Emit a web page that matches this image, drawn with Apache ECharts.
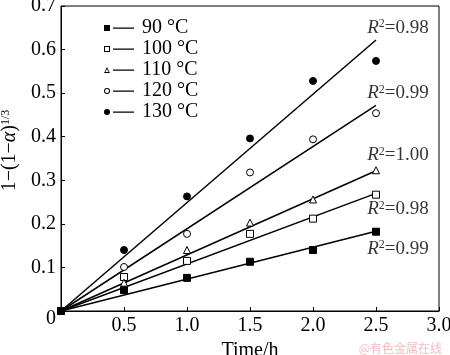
<!DOCTYPE html>
<html>
<head>
<meta charset="utf-8">
<script src="https://cdn.jsdelivr.net/npm/echarts@6/dist/echarts.min.js"></script>
<style>html,body{margin:0;padding:0;background:#fff}#c{width:450px;height:355px}</style>
</head>
<body>
<div id="c"></div>
<script>
// ---- data ----
var times = [0, 0.5, 1.0, 1.5, 2.0, 2.5];
var temps = ['90 °C', '100 °C', '110 °C', '120 °C', '130 °C'];
var v90  = [0, 0.048, 0.076, 0.113, 0.140, 0.182];
var v100 = [0, 0.078, 0.115, 0.177, 0.212, 0.267];
var v110 = [0, 0.065, 0.140, 0.203, 0.256, 0.323];
var v120 = [0, 0.101, 0.177, 0.318, 0.394, 0.454];
var v130 = [0, 0.140, 0.263, 0.396, 0.528, 0.574];
var fitX = [0, 2.5];
var fit90  = [0, 0.183];
var fit100 = [0, 0.270];
var fit110 = [0, 0.322];
var fit120 = [0, 0.472];
var fit130 = [0, 0.622];
var r2Values = ['0.99', '0.98', '1.00', '0.99', '0.98'];
var r2AnchorX = [2.43, 2.43, 2.43, 2.43, 2.43];
var r2AnchorY = [0.143, 0.233, 0.357, 0.50, 0.65];
var xTicks = [0, 0.5, 1.0, 1.5, 2.0, 2.5, 3.0];

var values = [v90, v100, v110, v120, v130];
var fits = [fit90, fit100, fit110, fit120, fit130];

var FONT = '"Liberation Serif", "Times New Roman", serif';
var symbols = [
  {symbol: 'rect', fill: '#000'},
  {symbol: 'rect', fill: '#fff'},
  {symbol: 'triangle', fill: '#fff'},
  {symbol: 'circle', fill: '#fff'},
  {symbol: 'circle', fill: '#000'}
];
var lineRect = ' M9 2.4 L30 2.4 L30 3.7 L9 3.7 Z';
var legendIcons = [
  'path://M0 0 L6 0 L6 6 L0 6 Z' + lineRect,
  'path://M0 0 L6 0 L6 6 L0 6 Z M1 1 L1 5 L5 5 L5 1 Z' + lineRect,
  'path://M3 0 L6 6 L0 6 Z M3 2 L1.3 5.1 L4.7 5.1 Z' + lineRect,
  'path://M0 3 A3 3 0 1 0 6 3 A3 3 0 1 0 0 3 Z M1 3 A2 2 0 1 1 5 3 A2 2 0 1 1 1 3 Z' + lineRect,
  'path://M0 3 A3 3 0 1 0 6 3 A3 3 0 1 0 0 3 Z' + lineRect
];

var series = [];
temps.forEach(function (t, i) {
  series.push({
    name: t, type: 'scatter', z: 5,
    symbol: symbols[i].symbol, symbolSize: 7,
    itemStyle: {color: symbols[i].fill, borderColor: '#000', borderWidth: 1, opacity: 1},
    data: times.map(function (x, k) { return [x, values[i][k]]; })
  });
});
temps.forEach(function (t, i) {
  series.push({
    name: t, type: 'line', z: 3, symbol: 'none', silent: true,
    lineStyle: {color: '#000', width: 1.5},
    data: fitX.map(function (x, k) { return [x, fits[i][k]]; })
  });
});
series.push({
  type: 'scatter', symbolSize: 0, z: 6, silent: true,
  label: {
    show: true, position: 'right', distance: 0,
    formatter: function (p) { return '{i|R}{s|2}{n|=' + r2Values[p.dataIndex] + '}'; },
    rich: {
      i: {fontFamily: FONT, fontSize: 19, fontStyle: 'italic', color: '#000'},
      s: {fontFamily: FONT, fontSize: 12, color: '#000', verticalAlign: 'top', padding: [0, 0, 6, 0]},
      n: {fontFamily: FONT, fontSize: 19, color: '#000'}
    }
  },
  data: r2AnchorX.map(function (x, k) { return [x, r2AnchorY[k]]; })
});

var chart = echarts.init(document.getElementById('c'));
chart.setOption({
  animation: false,
  grid: {left: 61, right: 11, top: 6, bottom: 44, show: true, borderColor: '#000', borderWidth: 1,
         containLabel: false, outerBoundsMode: 'none'},
  legend: {
    left: 99, top: 13, orient: 'vertical', selectedMode: false,
    itemWidth: 30, itemHeight: 6, itemGap: 1,
    itemStyle: {color: '#000', borderWidth: 0},
    textStyle: {fontFamily: FONT, fontSize: 20, lineHeight: 19, color: '#000', padding: [0, 0, 0, 3]},
    data: temps.map(function (t, i) { return {name: t, icon: legendIcons[i]}; })
  },
  xAxis: {
    type: 'value', min: 0, max: 3, interval: 0.5,
    name: 'Time/h', nameLocation: 'middle', nameGap: 28,
    nameTextStyle: {fontFamily: FONT, fontSize: 20, color: '#000'},
    axisLine: {lineStyle: {color: '#000', width: 1}},
    axisTick: {inside: true, length: 4, lineStyle: {color: '#000'}},
    splitLine: {show: false},
    axisLabel: {
      fontFamily: FONT, fontSize: 20, color: '#000', margin: 5,
      formatter: function (v) { return v === 0 ? '' : v.toFixed(1); }
    }
  },
  yAxis: {
    type: 'value', min: 0, max: 0.7, interval: 0.1,
    name: '1−(1−{a|α}){s|1/3}', nameLocation: 'middle', nameRotate: 90, nameGap: 40,
    nameTextStyle: {
      fontFamily: FONT, fontSize: 20, color: '#000', padding: [0, 0, 0, 16],
      rich: {
        a: {fontFamily: FONT, fontSize: 20, fontStyle: 'italic', color: '#000'},
        s: {fontFamily: FONT, fontSize: 12, color: '#000', verticalAlign: 'top', padding: [0, 0, 6, 0]}
      }
    },
    axisLine: {show: true, lineStyle: {color: '#000', width: 1}},
    axisTick: {show: true, inside: true, length: 4, lineStyle: {color: '#000'}},
    splitLine: {show: false},
    axisLabel: {
      fontFamily: FONT, fontSize: 20, color: '#000', margin: 5,
      formatter: function (v) { return v === 0 ? '{z|0}' : v.toFixed(1); },
      rich: {z: {fontFamily: FONT, fontSize: 20, color: '#000', padding: [16, 0, 0, 0]}}
    }
  },
  graphic: [{
    type: 'text', right: 8, bottom: 1,
    style: {text: '@有色金属在线', font: '12px "Noto Sans CJK SC"', fill: '#f2bcbc'}
  }],
  series: series
});
</script>
</body>
</html>
